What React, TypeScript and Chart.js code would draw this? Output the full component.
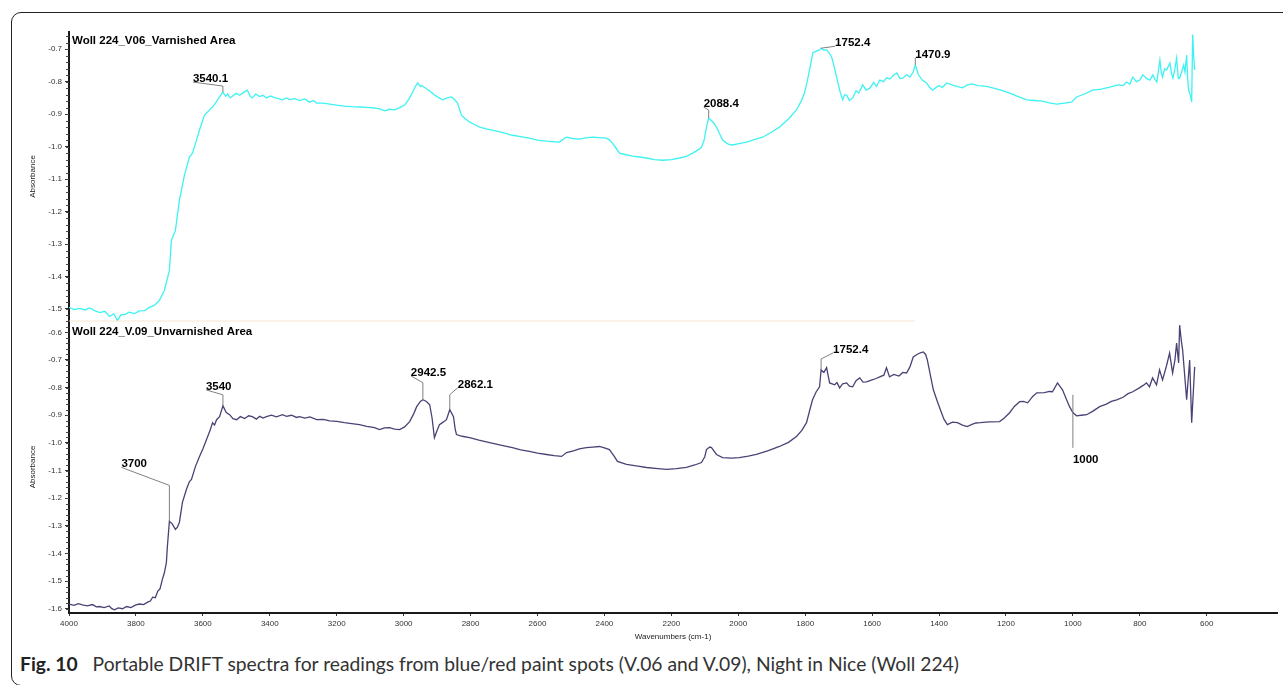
import React, { useEffect, useRef } from 'react';
import { Chart, registerables } from 'chart.js';

Chart.register(...registerables);

// ---- V.06, varnished area (upper trace) ----
const topWavenumbers = [
  4000, 3985, 3968, 3952, 3938, 3922, 3908, 3893, 3879, 3866, 3855, 3845, 3834, 3820, 3804, 3790, 3774, 3760,
  3745, 3730, 3715, 3700, 3694, 3682, 3670, 3655, 3640, 3631, 3619, 3610, 3595, 3583, 3571, 3560, 3550, 3540.1,
  3532, 3526, 3518, 3511, 3500, 3490, 3478, 3467, 3458, 3452, 3442, 3431, 3420, 3410, 3398, 3386, 3374, 3362,
  3350, 3341, 3325, 3311, 3296, 3281, 3270, 3260, 3240, 3221, 3200, 3177, 3155, 3132, 3110, 3087, 3072, 3057,
  3042, 3027, 3012, 2997, 2985, 2976, 2965, 2958, 2950, 2946, 2932, 2920, 2908, 2895, 2884, 2870, 2857, 2848,
  2839, 2827, 2815, 2803, 2790, 2773, 2750, 2722, 2700, 2675, 2650, 2624, 2600, 2573, 2550, 2534, 2520, 2513,
  2495, 2474, 2455, 2435, 2415, 2394, 2384, 2376, 2365, 2355, 2335, 2316, 2295, 2274, 2250, 2226, 2200, 2175,
  2155, 2136, 2120, 2110, 2102, 2095, 2088.4, 2075, 2065, 2055, 2047, 2030, 2017, 1995, 1975, 1950, 1927, 1900,
  1877, 1850, 1826, 1812, 1802, 1794, 1787, 1777, 1765, 1757, 1752.4, 1745, 1736, 1728, 1721, 1713, 1706, 1696,
  1688, 1682, 1676, 1668, 1658, 1648, 1640, 1628, 1618, 1607, 1595, 1587, 1577, 1566, 1557, 1547, 1537, 1526,
  1517, 1508, 1497, 1487, 1478, 1470.9, 1462, 1450, 1437, 1428, 1419, 1400, 1390, 1377, 1355, 1330, 1315, 1300,
  1285, 1270, 1255, 1240, 1215, 1189, 1165, 1138, 1115, 1091, 1070, 1049, 1025, 1004, 989, 965, 941, 915, 890,
  865, 850, 839, 830, 821, 810, 800, 791, 780, 770, 761, 755, 749, 740, 736, 732, 726, 720, 710, 705, 701, 695,
  690, 685, 681, 675, 669, 665, 660, 657, 654, 648, 645, 642, 639, 636,
];
const topAbsorbance = [
  -1.495, -1.502, -1.498, -1.503, -1.497, -1.506, -1.511, -1.507, -1.523, -1.515, -1.536, -1.518, -1.517, -1.51,
  -1.514, -1.506, -1.505, -1.495, -1.489, -1.474, -1.443, -1.381, -1.289, -1.258, -1.165, -1.088, -1.032, -1.02,
  -0.98, -0.949, -0.903, -0.89, -0.878, -0.862, -0.847, -0.832, -0.845, -0.838, -0.85, -0.844, -0.836, -0.842,
  -0.833, -0.826, -0.845, -0.85, -0.838, -0.846, -0.842, -0.85, -0.844, -0.849, -0.852, -0.856, -0.85, -0.855,
  -0.852, -0.858, -0.853, -0.863, -0.858, -0.866, -0.866, -0.869, -0.872, -0.875, -0.877, -0.878, -0.879, -0.881,
  -0.884, -0.89, -0.885, -0.887, -0.88, -0.872, -0.855, -0.838, -0.815, -0.804, -0.815, -0.812, -0.822, -0.83,
  -0.841, -0.849, -0.856, -0.85, -0.847, -0.855, -0.866, -0.903, -0.915, -0.924, -0.931, -0.94, -0.946, -0.952,
  -0.958, -0.965, -0.969, -0.974, -0.98, -0.983, -0.985, -0.986, -0.975, -0.971, -0.975, -0.977, -0.973, -0.971,
  -0.972, -0.974, -0.98, -0.989, -1.005, -1.02, -1.025, -1.029, -1.032, -1.035, -1.04, -1.042, -1.04, -1.035,
  -1.03, -1.02, -1.01, -1.002, -0.98, -0.94, -0.912, -0.925, -0.94, -0.962, -0.98, -0.992, -0.995, -0.99, -0.986,
  -0.978, -0.971, -0.955, -0.94, -0.915, -0.887, -0.86, -0.835, -0.8, -0.764, -0.711, -0.705, -0.702, -0.697,
  -0.703, -0.702, -0.712, -0.724, -0.755, -0.786, -0.83, -0.856, -0.84, -0.841, -0.858, -0.85, -0.828, -0.835,
  -0.81, -0.826, -0.82, -0.802, -0.815, -0.795, -0.8, -0.788, -0.792, -0.781, -0.773, -0.79, -0.789, -0.778,
  -0.786, -0.772, -0.748, -0.778, -0.795, -0.804, -0.818, -0.826, -0.812, -0.818, -0.804, -0.812, -0.819, -0.81,
  -0.807, -0.812, -0.813, -0.815, -0.819, -0.826, -0.835, -0.845, -0.856, -0.858, -0.86, -0.865, -0.869, -0.866,
  -0.863, -0.847, -0.838, -0.826, -0.823, -0.817, -0.81, -0.812, -0.801, -0.808, -0.786, -0.8, -0.795, -0.779,
  -0.79, -0.795, -0.779, -0.792, -0.801, -0.733, -0.77, -0.786, -0.76, -0.764, -0.743, -0.775, -0.789, -0.76,
  -0.727, -0.79, -0.789, -0.77, -0.749, -0.77, -0.718, -0.79, -0.826, -0.845, -0.863, -0.655, -0.72, -0.764,
];

// ---- V.09, unvarnished area (lower trace) ----
const bottomWavenumbers = [
  4000, 3985, 3972, 3960, 3945, 3930, 3918, 3909, 3895, 3880, 3872, 3864, 3853, 3840, 3828, 3815, 3800, 3789,
  3777, 3765, 3757, 3750, 3742, 3735, 3728, 3721, 3715, 3709, 3706, 3700, 3692, 3682, 3676, 3670, 3661, 3649,
  3640, 3634, 3622, 3610, 3600, 3589, 3580, 3571, 3565, 3559, 3550, 3540, 3530, 3520, 3510, 3499, 3488, 3475,
  3463, 3452, 3440, 3430, 3420, 3410, 3395, 3380, 3362, 3350, 3335, 3320, 3311, 3295, 3280, 3260, 3240, 3221,
  3200, 3177, 3155, 3132, 3110, 3087, 3072, 3057, 3042, 3027, 3012, 2997, 2982, 2970, 2961, 2950, 2942.5, 2932,
  2922, 2915, 2908, 2900, 2893, 2882, 2872, 2862.1, 2851, 2846, 2842, 2825, 2803, 2775, 2743, 2710, 2675, 2650,
  2624, 2600, 2573, 2550, 2528, 2513, 2490, 2475, 2454, 2435, 2415, 2400, 2385, 2370, 2361, 2334, 2300, 2274,
  2240, 2214, 2185, 2155, 2130, 2110, 2100, 2095, 2085, 2080, 2065, 2047, 2020, 1997, 1970, 1946, 1910, 1877,
  1850, 1826, 1810, 1796, 1786, 1778, 1767, 1757, 1752.4, 1744, 1736, 1727, 1712, 1705, 1697, 1688, 1676, 1668,
  1658, 1648, 1637, 1627, 1617, 1600, 1590, 1577, 1565, 1557, 1548, 1535, 1520, 1508, 1497, 1487, 1477, 1466,
  1456, 1447, 1440, 1435, 1425, 1417, 1405, 1396, 1385, 1375, 1360, 1345, 1330, 1316, 1300, 1290, 1277, 1250,
  1219, 1205, 1189, 1175, 1159, 1148, 1135, 1120, 1108, 1085, 1070, 1061, 1046, 1031, 1020, 1010, 1000, 989, 975,
  959, 940, 920, 900, 885, 869, 850, 835, 821, 800, 790, 780, 771, 762, 750, 741, 732, 720, 711, 702, 695, 690,
  684, 681, 676, 672, 660, 651, 645, 636,
];
const bottomAbsorbance = [
  -1.583, -1.588, -1.582, -1.586, -1.59, -1.585, -1.593, -1.592, -1.596, -1.59, -1.6, -1.604, -1.597, -1.6, -1.592,
  -1.596, -1.586, -1.583, -1.585, -1.576, -1.572, -1.558, -1.56, -1.537, -1.528, -1.494, -1.47, -1.433, -1.375,
  -1.284, -1.292, -1.313, -1.305, -1.287, -1.215, -1.168, -1.14, -1.132, -1.085, -1.049, -1.022, -0.988, -0.96,
  -0.927, -0.935, -0.916, -0.905, -0.866, -0.89, -0.898, -0.912, -0.916, -0.905, -0.912, -0.902, -0.905, -0.914,
  -0.904, -0.91, -0.905, -0.9, -0.906, -0.898, -0.904, -0.9, -0.908, -0.905, -0.91, -0.906, -0.916, -0.915, -0.92,
  -0.922, -0.927, -0.93, -0.934, -0.94, -0.945, -0.952, -0.946, -0.945, -0.95, -0.952, -0.942, -0.923, -0.895,
  -0.869, -0.85, -0.844, -0.85, -0.862, -0.91, -0.981, -0.955, -0.934, -0.925, -0.916, -0.88, -0.905, -0.95,
  -0.97, -0.976, -0.981, -0.99, -0.999, -1.008, -1.017, -1.025, -1.031, -1.037, -1.042, -1.046, -1.049, -1.035,
  -1.028, -1.022, -1.017, -1.015, -1.013, -1.018, -1.024, -1.05, -1.067, -1.078, -1.084, -1.089, -1.093, -1.096,
  -1.093, -1.089, -1.08, -1.071, -1.05, -1.024, -1.015, -1.017, -1.042, -1.053, -1.055, -1.053, -1.048, -1.042,
  -1.028, -1.013, -0.998, -0.977, -0.955, -0.927, -0.88, -0.844, -0.815, -0.797, -0.736, -0.745, -0.728, -0.783,
  -0.79, -0.782, -0.801, -0.786, -0.783, -0.795, -0.797, -0.775, -0.765, -0.78, -0.779, -0.772, -0.768, -0.761,
  -0.755, -0.728, -0.761, -0.752, -0.758, -0.745, -0.747, -0.725, -0.689, -0.68, -0.674, -0.671, -0.68, -0.7,
  -0.76, -0.808, -0.85, -0.88, -0.915, -0.934, -0.925, -0.927, -0.936, -0.941, -0.932, -0.928, -0.927, -0.924,
  -0.923, -0.91, -0.891, -0.868, -0.851, -0.85, -0.855, -0.832, -0.819, -0.818, -0.814, -0.815, -0.783, -0.808,
  -0.84, -0.869, -0.89, -0.902, -0.9, -0.898, -0.885, -0.869, -0.86, -0.85, -0.844, -0.835, -0.822, -0.815, -0.8,
  -0.792, -0.783, -0.797, -0.765, -0.79, -0.736, -0.772, -0.72, -0.675, -0.747, -0.7, -0.639, -0.711, -0.574,
  -0.63, -0.664, -0.844, -0.7, -0.927, -0.725,
];

// Wavenumber axis labels
const wavenumberTicks = [4000, 3800, 3600, 3400, 3200, 3000, 2800, 2600, 2400, 2200, 2000, 1800, 1600, 1400, 1200, 1000, 800, 600];

// Peak annotations
const topPeakWavenumbers = [3540.1, 2088.4, 1752.4, 1470.9];
const topPeakLabels = ['3540.1', '2088.4', '1752.4', '1470.9'];
const bottomPeakWavenumbers = [3700, 3540, 2942.5, 2862.1, 1752.4];
const bottomPeakLabels = ['3700', '3540', '2942.5', '2862.1', '1752.4'];
const markerWavenumber = 1000;
const markerLabel = '1000';
const markerRange = [-0.826, -1.018];

const panelTitles = ['Woll 224_V06_Varnished Area', 'Woll 224_V.09_Unvarnished Area'];

// Leader geometry in pixels: rise above the peak, then a slanted run to the label
const topLeaders = [
  { rise: 6, dx: -30, dy: -4 },
  { rise: 8, dx: -5, dy: -3 },
  { rise: 0, dx: 14, dy: -2 },
  { rise: 7, dx: 0, dy: 0 },
];
const bottomLeaders = [
  { rise: 36, dx: -48, dy: -18 },
  { rise: 11, dx: -17, dy: -5 },
  { rise: 17, dx: -12, dy: -7 },
  { rise: 15, dx: 8, dy: -7 },
  { rise: 11, dx: 12, dy: -6 },
];

const AXIS_FONT = '"Liberation Sans", Arial, sans-serif';

function valueAt(wns: number[], vals: number[], wn: number): number {
  let best = 0;
  for (let i = 1; i < wns.length; i++) {
    if (Math.abs(wns[i] - wn) < Math.abs(wns[best] - wn)) best = i;
  }
  return vals[best];
}

const notesPlugin = {
  id: 'spectrumNotes',
  afterDatasetsDraw(chart: any) {
    const { ctx, chartArea } = chart;
    const xs = chart.scales.x;
    const yT = chart.scales.yTop;
    const yB = chart.scales.yBottom;
    ctx.save();

    // minor ticks along the absorbance axes
    ctx.strokeStyle = '#444';
    ctx.lineWidth = 1;
    for (const s of [yT, yB]) {
      const start = Math.ceil(s.min / 0.02);
      const end = Math.floor(s.max / 0.02);
      for (let k = start; k <= end; k++) {
        const py = Math.round(s.getPixelForValue(k * 0.02)) + 0.5;
        ctx.beginPath();
        ctx.moveTo(chartArea.left - 3, py);
        ctx.lineTo(chartArea.left, py);
        ctx.stroke();
      }
    }

    // faint divider between the two panels
    ctx.strokeStyle = 'rgba(245, 225, 200, 0.55)';
    ctx.lineWidth = 1.5;
    ctx.beginPath();
    ctx.moveTo(chartArea.left, yT.bottom);
    ctx.lineTo(xs.getPixelForValue(1470.9), yT.bottom);
    ctx.stroke();

    // panel titles
    ctx.fillStyle = '#000';
    ctx.font = `bold 11.5px ${AXIS_FONT}`;
    ctx.textBaseline = 'middle';
    ctx.textAlign = 'left';
    ctx.fillText(panelTitles[0], chartArea.left + 3, yT.top + 9);
    ctx.fillText(panelTitles[1], chartArea.left + 3, yB.top + 11);

    const drawLeaders = (
      wns: number[], labels: string[], layout: { rise: number; dx: number; dy: number }[],
      seriesW: number[], seriesV: number[], scale: any,
    ) => {
      wns.forEach((wn, i) => {
        const px = xs.getPixelForValue(wn);
        const py = scale.getPixelForValue(valueAt(seriesW, seriesV, wn));
        const kneeY = py - layout[i].rise;
        const ex = px + layout[i].dx;
        const ey = kneeY + layout[i].dy;
        ctx.strokeStyle = '#808080';
        ctx.lineWidth = 1;
        ctx.beginPath();
        ctx.moveTo(px, py);
        ctx.lineTo(px, kneeY);
        ctx.lineTo(ex, ey);
        ctx.stroke();
        ctx.fillStyle = '#000';
        ctx.font = `bold 11.5px ${AXIS_FONT}`;
        ctx.textBaseline = 'alphabetic';
        ctx.fillText(labels[i], ex, ey);
      });
    };
    drawLeaders(topPeakWavenumbers, topPeakLabels, topLeaders, topWavenumbers, topAbsorbance, yT);
    drawLeaders(bottomPeakWavenumbers, bottomPeakLabels, bottomLeaders, bottomWavenumbers, bottomAbsorbance, yB);

    // 1000 marker
    const mx = xs.getPixelForValue(markerWavenumber);
    const my0 = yB.getPixelForValue(markerRange[0]);
    const my1 = yB.getPixelForValue(markerRange[1]);
    ctx.strokeStyle = '#808080';
    ctx.beginPath();
    ctx.moveTo(mx, my0);
    ctx.lineTo(mx, my1);
    ctx.stroke();
    ctx.fillStyle = '#000';
    ctx.textBaseline = 'top';
    ctx.fillText(markerLabel, mx, my1 + 6);

    ctx.restore();
  },
};

function SpectraChart() {
  const canvasRef = useRef<HTMLCanvasElement | null>(null);

  useEffect(() => {
    const canvas = canvasRef.current;
    if (!canvas) return;
    const tickFont = { family: AXIS_FONT, size: 8 };
    const yAxis = (min: number, max: number, weight: number) => ({
      type: 'linear' as const,
      position: 'left' as const,
      stack: 'absorbance',
      stackWeight: weight,
      min,
      max,
      afterFit: (s: any) => { s.width = 69; },
      border: { display: true, color: '#1a1a1a', width: 2 },
      grid: { drawOnChartArea: false, drawTicks: true, tickLength: 4, color: '#333', tickWidth: 1 },
      ticks: {
        stepSize: 0.1,
        includeBounds: false,
        padding: 3,
        color: '#333',
        font: tickFont,
        callback: (v: any) => Number(v).toFixed(1),
      },
      title: {
        display: true,
        text: 'Absorbance',
        color: '#222',
        font: tickFont,
        padding: { top: 28, bottom: 0 },
      },
    });

    const chart = new Chart(canvas, {
      type: 'line',
      data: {
        datasets: [
          {
            label: 'V.06',
            data: topWavenumbers.map((w, i) => ({ x: w, y: topAbsorbance[i] })),
            yAxisID: 'yTop',
            borderColor: '#3ef2f2',
            borderWidth: 1.3,
            pointRadius: 0,
            tension: 0,
            fill: false,
          },
          {
            label: 'V.09',
            data: bottomWavenumbers.map((w, i) => ({ x: w, y: bottomAbsorbance[i] })),
            yAxisID: 'yBottom',
            borderColor: '#4a4275',
            borderWidth: 1.3,
            pointRadius: 0,
            tension: 0,
            fill: false,
          },
        ],
      },
      options: {
        animation: false,
        responsive: false,
        devicePixelRatio: 1,
        events: [],
        layout: { padding: { left: 0, right: 6, top: 32, bottom: 0 } },
        plugins: { legend: { display: false }, tooltip: { enabled: false } },
        scales: {
          x: {
            type: 'linear',
            position: 'bottom',
            reverse: true,
            min: 390,
            max: 4000,
            afterFit: (s: any) => { s.height = 37; },
            afterBuildTicks: (s: any) => { s.ticks = wavenumberTicks.map((v) => ({ value: v })); },
            border: { display: true, color: '#1a1a1a', width: 2 },
            grid: { drawOnChartArea: false, drawTicks: true, tickLength: 3, color: '#333' },
            ticks: {
              maxRotation: 0,
              autoSkip: false,
              padding: 3,
              color: '#333',
              font: tickFont,
              callback: (v: any) => String(v),
            },
            title: {
              display: true,
              text: 'Wavenumbers (cm-1)',
              color: '#222',
              font: tickFont,
              padding: { top: 0, bottom: 8 },
            },
          },
          yBottom: yAxis(-1.6155, -0.559, 292),
          yTop: yAxis(-1.537, -0.647, 289),
        },
      },
      plugins: [notesPlugin],
    });
    return () => chart.destroy();
  }, []);

  return (
    <canvas
      ref={canvasRef}
      width={1283}
      height={650}
      style={{ position: 'absolute', left: 0, top: 0, width: 1283, height: 650 }}
    />
  );
}

export default function App() {
  return (
    <div style={{ position: 'absolute', left: 0, top: 0, width: 1283, height: 685, overflow: 'hidden', background: '#fff' }}>
      <div
        style={{
          position: 'absolute',
          left: 11,
          top: 12,
          width: 1300,
          height: 674,
          border: '1.5px solid #222',
          borderRadius: 10,
          boxSizing: 'border-box',
        }}
      />
      <SpectraChart />
      <div
        style={{
          position: 'absolute',
          left: 20,
          top: 652,
          fontFamily: 'Lato, "Noto Sans", sans-serif',
          fontSize: 19.3,
          lineHeight: '24px',
          color: '#333',
          whiteSpace: 'nowrap',
        }}
      >
        <span style={{ fontWeight: 700, color: '#222', marginRight: 15 }}>Fig. 10</span>
        Portable DRIFT spectra for readings from blue/red paint spots (V.06 and V.09), Night in Nice (Woll 224)
      </div>
    </div>
  );
}
